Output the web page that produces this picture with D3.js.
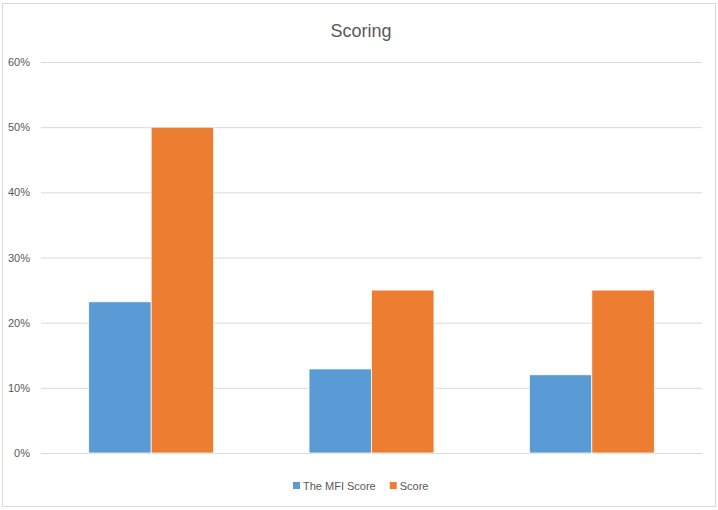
<!DOCTYPE html>
<html>
<head>
<meta charset="utf-8">
<script src="https://cdn.jsdelivr.net/npm/d3@7"></script>
<style>
body { margin: 0; background: #fff; }
text { font-family: "Liberation Sans", Arial, sans-serif; fill: #595959; }
</style>
</head>
<body>
<div id="container"></div>
<script>
/* Data */
var categories = ["1", "2", "3"],
	seriesNames = ["The MFI Score", "Score"],
	mfiScore = [0.232, 0.129, 0.12],
	score = [0.50, 0.25, 0.25],
	yTicks = [0, 0.1, 0.2, 0.3, 0.4, 0.5, 0.6];

var colors = ["#5b9bd5", "#ed7d31"];

var w = 718, h = 510;
var margin = {top: 62, right: 16, bottom: 57, left: 41};
var width = w - margin.left - margin.right,
	height = h - margin.top - margin.bottom;

var svg = d3.select('#container').append('svg')
	.attr('width', w)
	.attr('height', h);

/* chart frame */
svg.append('rect')
	.attr('x', 2.5).attr('y', 3.5)
	.attr('width', 713).attr('height', 503)
	.attr('fill', '#fff')
	.attr('stroke', '#d9d9d9');

/* title */
svg.append('text')
	.attr('x', 361).attr('y', 37)
	.attr('text-anchor', 'middle')
	.style('font-size', '18px')
	.text('Scoring');

var g = svg.append('g')
	.attr('transform', 'translate(' + margin.left + ',' + margin.top + ')');

/* Scales */
var xScale = d3.scaleBand()
	.domain(categories)
	.range([0, width])
	.paddingInner(0.433)
	.paddingOuter(0.2165);

var xSub = d3.scaleBand()
	.domain(seriesNames)
	.range([0, xScale.bandwidth()]);

var yScale = d3.scaleLinear()
	.domain([0, 0.6])
	.range([height, 0]);

/* Y-Axis with gridlines */
var yAxis = d3.axisLeft(yScale)
	.tickValues(yTicks)
	.tickFormat(d3.format('.0%'))
	.tickSize(-width)
	.tickPadding(11);

g.append('g')
	.classed('yaxis', true)
	.call(yAxis)
	.call(a => a.select('.domain').remove())
	.call(a => a.selectAll('line').attr('stroke', '#d9d9d9'))
	.call(a => a.selectAll('text')
		.style('font-size', '11px')
		.style('fill', '#595959'));

/* Bars */
var rows = categories.map((c, i) => ({cat: c, values: [mfiScore[i], score[i]]}));

var groups = g.selectAll('.group')
	.data(rows)
	.enter().append('g')
	.attr('class', 'group')
	.attr('transform', d => 'translate(' + xScale(d.cat) + ',0)');

groups.selectAll('rect')
	.data(d => d.values.map((v, j) => ({name: seriesNames[j], value: v, j: j})))
	.enter().append('rect')
	.attr('x', d => xSub(d.name))
	.attr('y', d => yScale(d.value))
	.attr('width', xSub.bandwidth())
	.attr('height', d => height - yScale(d.value))
	.attr('fill', d => colors[d.j])
	.attr('stroke', '#fff')
	.attr('stroke-width', 0.75);

/* Legend - laid out from measured text widths, centred under the plot */
var legend = svg.append('g');

var items = legend.selectAll('.item')
	.data(seriesNames)
	.enter().append('g')
	.attr('class', 'item');

items.append('rect')
	.attr('width', 7).attr('height', 7)
	.attr('y', -8)
	.attr('fill', (d, i) => colors[i]);

items.append('text')
	.attr('x', 10).attr('y', 0)
	.style('font-size', '11px')
	.text(d => d);

var offset = 0;
items.each(function() {
	var t = d3.select(this).select('text').node().getComputedTextLength();
	d3.select(this).attr('transform', 'translate(' + offset + ',0)');
	offset += 10 + t + 14;
});
offset -= 14;
legend.attr('transform', 'translate(' + Math.round(361 - offset / 2) + ',490)');
</script>
</body>
</html>
